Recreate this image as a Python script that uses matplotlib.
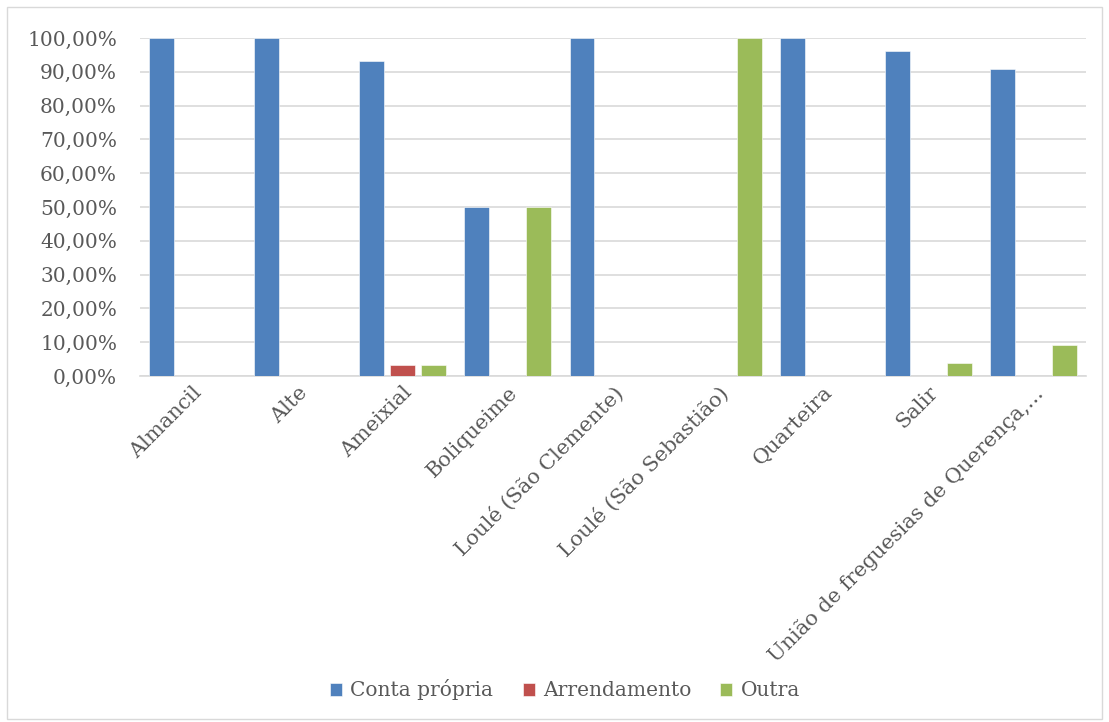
import matplotlib
matplotlib.use("Agg")
import matplotlib.pyplot as plt
import numpy as np
from matplotlib.patches import Rectangle
from matplotlib.ticker import FuncFormatter, MultipleLocator

categories = ["Almancil", "Alte", "Ameixial", "Boliqueime", "Loulé (São Clemente)",
              "Loulé (São Sebastião)", "Quarteira", "Salir",
              "União de freguesias de Querença,..."]
conta_propria = [100.0, 100.0, 93.33, 50.0, 100.0, 0.0, 100.0, 96.15, 90.91]
arrendamento = [0.0, 0.0, 3.33, 0.0, 0.0, 0.0, 0.0, 0.0, 0.0]
outra = [0.0, 0.0, 3.33, 50.0, 0.0, 100.0, 0.0, 3.85, 9.09]

series = [("Conta própria", conta_propria, "#4F81BD"),
          ("Arrendamento", arrendamento, "#C0504D"),
          ("Outra", outra, "#9BBB59")]

plt.rcParams["font.family"] = ["DejaVu Serif"]
text_color = "#595959"

fig = plt.figure(figsize=(11.09, 7.22), dpi=100)
ax = fig.add_axes([140 / 1109, 1 - 376 / 722, (1086 - 140) / 1109, (376 - 38) / 722])

x = np.arange(len(categories))
width = 0.236
step = 0.295
for i, (name, vals, color) in enumerate(series):
    ax.bar(x + (i - 1) * step, vals, width, color=color, label=name,
           edgecolor="white", linewidth=0.4, zorder=3)

ax.set_xlim(-0.5, len(categories) - 0.5)
ax.set_ylim(0, 100)
ax.yaxis.set_major_locator(MultipleLocator(10))
ax.yaxis.set_major_formatter(FuncFormatter(lambda v, p: f"{v:.2f}".replace(".", ",") + "%"))
ax.grid(axis="y", color="#D9D9D9", linewidth=1.2, zorder=0)
ax.set_axisbelow(True)
for s in ["top", "right", "left"]:
    ax.spines[s].set_visible(False)
ax.spines["bottom"].set_color("#D9D9D9")
ax.spines["bottom"].set_linewidth(1.2)
ax.tick_params(axis="y", length=0, pad=16.5, labelsize=14.5, labelcolor=text_color)
ax.tick_params(axis="x", length=0, pad=5, labelsize=15, labelcolor=text_color)
ax.set_xticks(x)
ax.set_xticklabels(categories, rotation=45, ha="right", rotation_mode="anchor")

leg = fig.legend(loc="center", bbox_to_anchor=(565 / 1109, 1 - 690 / 722), ncol=3,
                 frameon=False, fontsize=14.5, handlelength=0.6, handleheight=0.6,
                 handletextpad=0.4, columnspacing=1.45)
for t in leg.get_texts():
    t.set_color(text_color)

fig.patches.append(Rectangle((7 / 1109, 3 / 722), 1 - 14 / 1109, 1 - 10 / 722,
                             transform=fig.transFigure, fill=False,
                             edgecolor="#D9D9D9", linewidth=1))

fig.savefig("out.png", dpi=100)
